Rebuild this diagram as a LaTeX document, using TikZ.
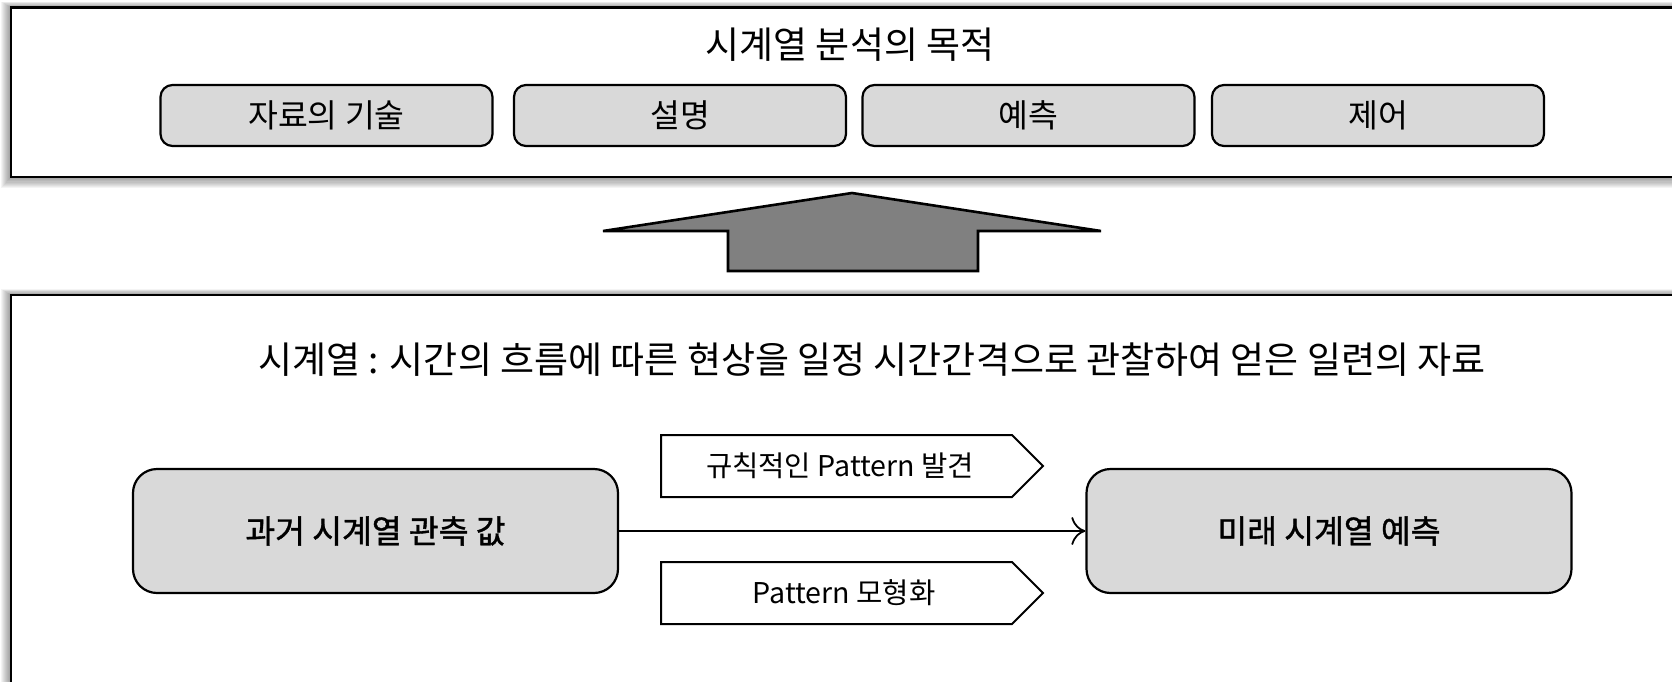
\documentclass[tikz,border=0pt]{standalone}
\usepackage{fontspec}
\usetikzlibrary{arrows.meta}
\setmainfont{Noto Sans CJK KR}
\newfontfamily\krmed[FakeBold=1.2]{Noto Sans CJK KR}
\definecolor{boxgray}{HTML}{D9D9D9}
\definecolor{arrowgray}{HTML}{808080}
\begin{document}
\begin{tikzpicture}[x=0.5pt,y=-0.5pt,
  panel/.style={draw=black, line width=1.3pt, fill=white},
  smallbox/.style={draw, line width=1.1pt, fill=boxgray, rounded corners=6pt,
    minimum width=166pt, minimum height=30.5pt, inner sep=0pt,
    font=\fontsize{16.2}{18}\selectfont},
  bigbox/.style={draw, line width=1.1pt, fill=boxgray, rounded corners=12pt,
    minimum width=242.5pt, minimum height=62pt, inner sep=0pt,
    font=\krmed\fontsize{16.2}{18}\selectfont},
  tagline/.style={draw, line width=1pt, fill=white},
  tagtext/.style={inner sep=0pt, font=\fontsize{14.3}{16}\selectfont},
  titletext/.style={inner sep=0pt, font=\fontsize{18.5}{20}\selectfont},
  conn/.style={draw, line width=0.9pt, -{To[length=7pt,width=14pt,line width=0.9pt]}}
]
\clip (0,0) rectangle (1672,681);
\fill[white] (0,0) rectangle (1672,681);

% shadows
\foreach \i in {1,...,10}{
  \fill[black, opacity=0.045] (11-\i,7.5-0.6*\i) rectangle (1700,177+1.1*\i);
  \fill[black, opacity=0.045] (11-\i,295-0.6*\i) rectangle (1700,720);
}

% top panel
\draw[panel] (11,7.5) rectangle (1700,177);
\node[titletext] (goal) at (850,45) {시계열 분석의 목적};
\node[smallbox] (b1) at (326.5,115.5) {자료의 기술};
\node[smallbox] (b2) at (680,115.5) {설명};
\node[smallbox] (b3) at (1028.5,115.5) {예측};
\node[smallbox] (b4) at (1378,115.5) {제어};

% up arrow
\draw[line width=1.3pt, fill=arrowgray, line join=miter]
  (852,193) -- (1101,231) -- (978,231) -- (978,271) -- (728,271) -- (728,231) -- (603,231) -- cycle;

% bottom panel
\draw[panel] (11,295) rectangle (1700,720);
\node[titletext] (def) at (872,360) {시계열 : 시간의 흐름에 따른 현상을 일정 시간간격으로 관찰하여 얻은 일련의 자료};

\node[bigbox] (past) at (375.5,531) {과거 시계열 관측 값};
\node[bigbox] (future) at (1329,531) {미래 시계열 예측};

\draw[tagline] (661,435) -- (1012,435) -- (1043,466) -- (1012,497) -- (661,497) -- cycle;
\node[tagtext] (t1) at (840,466) {규칙적인 Pattern 발견};
\draw[tagline] (661,562) -- (1012,562) -- (1043,593) -- (1012,624) -- (661,624) -- cycle;
\node[tagtext] (t2) at (844,593) {Pattern 모형화};

\draw[conn] (past.east) -- (future.west);
\end{tikzpicture}
\end{document}
